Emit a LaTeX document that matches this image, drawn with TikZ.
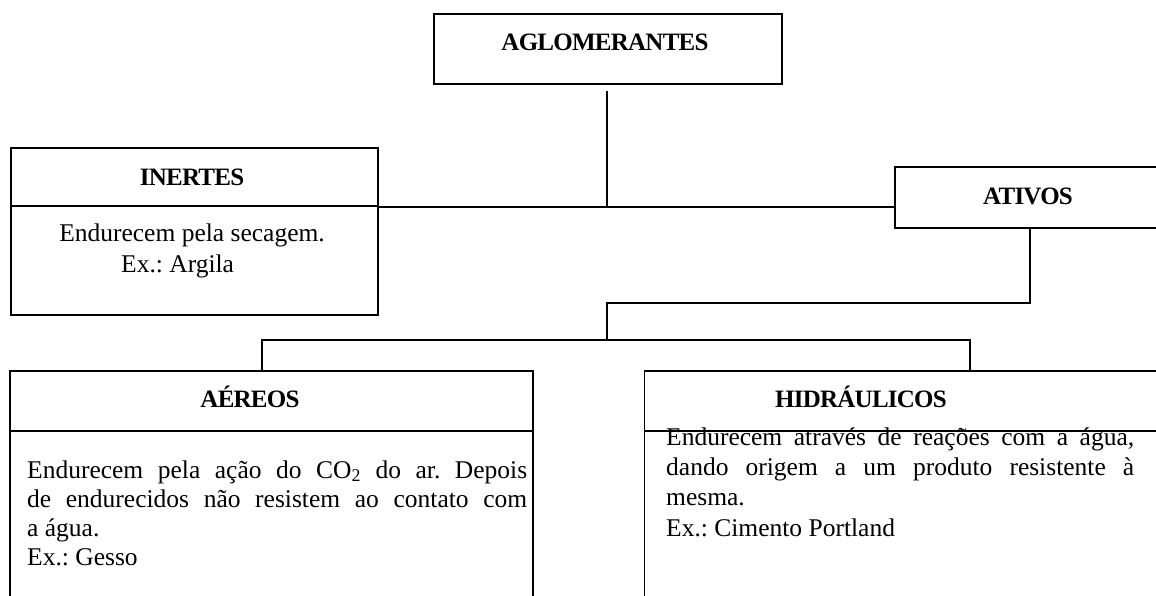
\documentclass[tikz,border=0pt]{standalone}
\usepackage{fontspec}
\setmainfont{Liberation Serif}
\newfontfamily\headfont[LetterSpace=-3]{Liberation Serif}
\frenchspacing
\tikzset{
  box/.style={draw, line width=1.4pt, rectangle, inner sep=0pt},
  conn/.style={draw, line width=1.4pt},
  head/.style={inner sep=0pt, anchor=base, font=\headfont\bfseries\fontsize{25}{30}\selectfont},
  body/.style={inner sep=0pt, anchor=base west, font=\fontsize{25.5}{29}\selectfont\frenchspacing},
}
\begin{document}
\begin{tikzpicture}[x=1pt,y=-1pt]
\useasboundingbox (0,0) rectangle (1156,595);
\clip (0,0) rectangle (1156,595);
\fill[white] (0,0) rectangle (1156,595);
% boxes
\node[box, minimum width=348pt, minimum height=70pt] (aglo) at (608,49) {};
\node[box, minimum width=367pt, minimum height=167pt] (inertes) at (194.5,231.5) {};
\node[box, minimum width=280pt, minimum height=61pt] (ativos) at (1035,197.5) {};
\node[box, minimum width=523pt, minimum height=249pt] (aereos) at (271.5,495.5) {};
\node[box, minimum width=536pt, minimum height=249pt] (hidra) at (912.5,495.5) {};
% helper coordinates
\coordinate (hub) at (607,207);
\coordinate (dI) at (0,206);
\coordinate (dA) at (0,431);
\coordinate (a1) at (1030,303);
\coordinate (split) at (607,340);
\coordinate (la) at (262,340);
\coordinate (lh) at (970,340);
% headings
\node[head] (tAglo) at (605,50) {AGLOMERANTES};
\node[head] (tIner) at (192,185) {INERTES};
\node[head] (tAtiv) at (1028,204) {ATIVOS};
\node[head] (tAere) at (250,407) {AÉREOS};
\node[head] (tHidr) at (861,407) {HIDRÁULICOS};
% body texts
\node[body, anchor=base] (i1) at (192,241) {Endurecem pela secagem.};
\node[body] (i2) at (121,272) {Ex.: Argila};
\node[body] (a1t) at (27,478) {\makebox[500pt][s]{Endurecem pela ação do CO\textsubscript{2} do ar. Depois}};
\node[body] (a2t) at (27,507) {\makebox[500pt][s]{de endurecidos não resistem ao contato com}};
\node[body] (a3t) at (27,536) {a água.};
\node[body] (a4t) at (27,565) {Ex.: Gesso};
\node[body] (h1t) at (666,445) {\makebox[468pt][s]{Endurecem através de reações com a água,}};
\node[body] (h2t) at (666,475) {\makebox[468pt][s]{dando origem a um produto resistente à}};
\node[body] (h3t) at (666,505) {mesma.};
\node[body] (h4t) at (666,536) {Ex.: Cimento Portland};
% dividers
\draw[conn] (inertes.west |- dI) -- (inertes.east |- dI);
\draw[conn] (aereos.west |- dA) -- (aereos.east |- dA);
\draw[conn] (hidra.west |- dA) -- (hidra.east |- dA);
% connectors
\draw[conn] ([yshift=-6pt]aglo.south -| hub) -- (hub);
\draw[conn] (inertes.east |- hub) -- (ativos.west |- hub);
\draw[conn] (ativos.south -| a1) -- (a1) -- (a1 -| split) -- (split);
\draw[conn] (aereos.north -| la) -- (la) -- (lh) -- (hidra.north -| lh);
\end{tikzpicture}
\end{document}
